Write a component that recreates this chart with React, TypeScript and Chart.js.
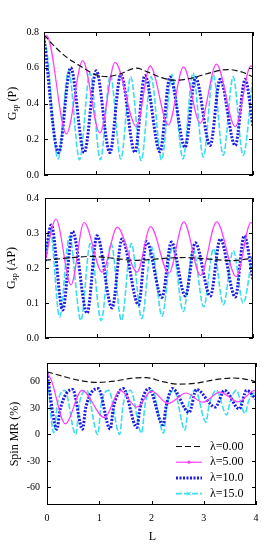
import React, { useEffect, useRef } from 'react';
import { Chart, registerables } from 'chart.js';
Chart.register(...registerables);

const FONT = '"Liberation Serif", "Times New Roman", serif';

// ---------- labels & ticks ----------
const legendLabels = ['λ=0.00', 'λ=5.00', 'λ=10.0', 'λ=15.0'];
const xTicks = [0, 1, 2, 3, 4];
const gpTicks = [0, 0.2, 0.4, 0.6, 0.8];
const gapTicks = [0, 0.1, 0.2, 0.3, 0.4];
const mrTicks = [-60, -30, 0, 30, 60];

type P = [number, number][];

// ---------- G_sp (P) ----------
const gpL0: P = [[0, 0.785], [0.2, 0.72], [0.45, 0.655], [0.75, 0.6], [0.95, 0.565], [1.2, 0.55], [1.45, 0.565], [1.77, 0.598], [2.0, 0.574], [2.25, 0.545], [2.51, 0.53], [2.8, 0.54], [3.1, 0.565], [3.52, 0.59], [3.8, 0.575], [4.0, 0.548]];
const gpL5: P = [[0, 0.75], [0.05, 0.78], [0.43, 0.23], [0.74, 0.64], [1.07, 0.235], [1.36, 0.63], [1.77, 0.27], [2.03, 0.61], [2.38, 0.28], [2.67, 0.605], [2.99, 0.29], [3.3, 0.62], [3.66, 0.27], [3.96, 0.61], [4.0, 0.6]];
const gpL10: P = [[0, 0.77], [0.28, 0.125], [0.51, 0.6], [0.77, 0.125], [1.0, 0.583], [1.26, 0.125], [1.47, 0.563], [1.74, 0.127], [1.93, 0.557], [2.22, 0.13], [2.41, 0.548], [2.7, 0.155], [2.9, 0.545], [3.18, 0.165], [3.37, 0.535], [3.66, 0.165], [3.85, 0.535], [4.0, 0.27]];
const gpL15: P = [[0, 0.76], [0.05, 0.7], [0.27, 0.09], [0.47, 0.58], [0.68, 0.085], [0.88, 0.57], [1.08, 0.085], [1.27, 0.56], [1.47, 0.09], [1.66, 0.55], [1.86, 0.08], [2.05, 0.55], [2.25, 0.085], [2.45, 0.56], [2.66, 0.09], [2.85, 0.57], [3.05, 0.1], [3.24, 0.56], [3.43, 0.11], [3.62, 0.55], [3.81, 0.11], [4.0, 0.55]];

// ---------- G_sp (AP) ----------
const gapL0: P = [[0, 0.222], [0.4, 0.228], [0.88, 0.233], [1.3, 0.228], [1.72, 0.222], [2.0, 0.224], [2.35, 0.228], [2.7, 0.23], [3.1, 0.226], [3.59, 0.221], [4.0, 0.228]];
const gapL5: P = [[0, 0.22], [0.21, 0.34], [0.5, 0.152], [0.75, 0.33], [1.1, 0.188], [1.39, 0.317], [1.77, 0.188], [2.03, 0.318], [2.38, 0.185], [2.67, 0.332], [2.99, 0.179], [3.3, 0.332], [3.68, 0.175], [3.96, 0.33], [4.0, 0.325]];
const gapL10: P = [[0, 0.22], [0.12, 0.323], [0.34, 0.08], [0.53, 0.305], [0.81, 0.071], [1.0, 0.292], [1.29, 0.086], [1.48, 0.283], [1.8, 0.095], [1.95, 0.276], [2.25, 0.116], [2.43, 0.274], [2.7, 0.12], [2.89, 0.272], [3.18, 0.12], [3.37, 0.283], [3.66, 0.117], [3.83, 0.292], [4.0, 0.166]];
const gapL15: P = [[0, 0.22], [0.1, 0.31], [0.28, 0.06], [0.47, 0.29], [0.69, 0.05], [0.87, 0.27], [1.08, 0.05], [1.27, 0.27], [1.47, 0.05], [1.66, 0.27], [1.86, 0.055], [2.05, 0.26], [2.25, 0.062], [2.45, 0.26], [2.66, 0.076], [2.85, 0.255], [3.05, 0.089], [3.24, 0.255], [3.43, 0.095], [3.62, 0.25], [3.81, 0.1], [4.0, 0.25]];

// ---------- Spin MR (%) ----------
const mrL0: P = [[0, 71], [0.3, 66], [0.6, 61.5], [0.95, 59], [1.3, 60.5], [1.6, 63.5], [1.9, 64.5], [2.2, 60], [2.52, 57], [2.9, 58.5], [3.2, 62], [3.57, 64], [3.85, 62], [4.0, 59.6]];
const mrL5: P = [[0, 70], [0.08, 62], [0.35, 12], [0.67, 50], [1.1, 19], [1.4, 50], [1.72, 31], [2.0, 49], [2.32, 35], [2.66, 47], [2.98, 36.5], [3.31, 48], [3.66, 37], [3.98, 50], [4.0, 50]];
const mrL10: P = [[0, 70], [0.19, 6], [0.25, 28], [0.49, 51], [0.68, 6], [0.74, 30], [0.98, 52], [1.21, 6], [1.27, 30], [1.46, 52], [1.72, 8], [1.78, 30], [1.95, 52], [2.22, 11], [2.28, 32], [2.4, 52], [2.72, 25], [2.86, 51], [3.22, 31], [3.4, 50], [3.68, 29], [3.82, 50], [4.0, 40]];
const mrL15: P = [[0, 70], [0.13, 2], [0.2, 35], [0.34, 50], [0.55, 0], [0.62, 35], [0.76, 50], [0.97, 0], [1.04, 35], [1.18, 50], [1.39, 0], [1.46, 35], [1.6, 50], [1.81, 1.5], [1.88, 35], [2.02, 50], [2.23, 1.5], [2.3, 35], [2.43, 50], [2.64, 5], [2.71, 35], [2.84, 50], [3.04, 14], [3.11, 35], [3.24, 50], [3.44, 22], [3.5, 36], [3.62, 50], [3.79, 24], [3.86, 38], [4.0, 50]];

const seriesStyles = [
  { color: '#111111', width: 1.2, dash: [6, 3] },
  { color: '#ff3cff', width: 1.2, dash: [] as number[] },
  { color: '#1c1ce6', width: 3, dash: [2, 1.5] },
  { color: '#3ddcee', width: 1.6, dash: [6, 2] },
];

const W = 273;

type Titles = { main: string; sub?: string; rest?: string };

const framePlugin = {
  id: 'frame',
  afterDraw(chart: any, _args: any, opts: any) {
    const { ctx, chartArea: a, scales } = chart;
    ctx.save();
    ctx.strokeStyle = '#000';
    ctx.lineWidth = 1;
    ctx.setLineDash([]);
    ctx.strokeRect(Math.round(a.left) + 0.5, Math.round(a.top) + 0.5, Math.round(a.width) - 1, Math.round(a.height) - 1);
    const tl = 4;
    ctx.beginPath();
    for (const v of opts.xt as number[]) {
      const px = Math.round(scales.x.getPixelForValue(v)) + 0.5;
      ctx.moveTo(px, a.bottom); ctx.lineTo(px, a.bottom - tl);
      ctx.moveTo(px, a.top); ctx.lineTo(px, a.top + tl);
    }
    for (const v of opts.yt as number[]) {
      const py = Math.round(scales.y.getPixelForValue(v)) + 0.5;
      ctx.moveTo(a.left, py); ctx.lineTo(a.left + tl, py);
      ctx.moveTo(a.right, py); ctx.lineTo(a.right - tl, py);
    }
    ctx.stroke();

    // y title
    const t: Titles = opts.title;
    ctx.fillStyle = '#000';
    ctx.textBaseline = 'middle';
    const big = `12px ${FONT}`;
    const small = `8px ${FONT}`;
    ctx.font = big;
    const w1 = ctx.measureText(t.main).width;
    const w3 = t.rest ? ctx.measureText(t.rest).width : 0;
    ctx.font = small;
    const w2 = t.sub ? ctx.measureText(t.sub).width : 0;
    const total = w1 + w2 + w3;
    const cy = (a.top + a.bottom) / 2;
    ctx.translate(opts.titleX, cy);
    ctx.rotate(-Math.PI / 2);
    let x = -total / 2;
    ctx.textAlign = 'left';
    ctx.font = big;
    ctx.fillText(t.main, x, 0);
    x += w1;
    if (t.sub) {
      ctx.font = small;
      ctx.fillText(t.sub, x, 3);
      x += w2;
    }
    if (t.rest) {
      ctx.font = big;
      ctx.fillText(t.rest, x, 0);
    }
    ctx.setTransform(1, 0, 0, 1, 0, 0);

    // x title
    if (opts.xTitle) {
      ctx.font = big;
      ctx.textAlign = 'center';
      ctx.fillText(opts.xTitle, (a.left + a.right) / 2 + 1, opts.xTitleY);
    }

    // legend
    if (opts.legend) {
      const lg = opts.legend;
      legendLabels.forEach((lab, i) => {
        const st = seriesStyles[i];
        const y = lg.y + i * lg.dy + 0.5;
        ctx.strokeStyle = st.color;
        ctx.lineWidth = st.width;
        ctx.setLineDash(st.dash);
        ctx.beginPath();
        ctx.moveTo(lg.x0, y);
        ctx.lineTo(lg.x1, y);
        ctx.stroke();
        ctx.setLineDash([]);
        const mx = (lg.x0 + lg.x1) / 2;
        if (i === 1) {
          ctx.fillStyle = st.color;
          ctx.beginPath();
          ctx.arc(mx, y, 1.6, 0, Math.PI * 2);
          ctx.fill();
        }
        if (i === 3) {
          ctx.lineWidth = 1;
          ctx.beginPath();
          ctx.moveTo(mx - 2, y - 2); ctx.lineTo(mx + 2, y + 2);
          ctx.moveTo(mx - 2, y + 2); ctx.lineTo(mx + 2, y - 2);
          ctx.stroke();
        }
        ctx.fillStyle = '#000';
        ctx.font = big;
        ctx.textAlign = 'left';
        ctx.fillText(lab, lg.tx, y);
      });
    }
    ctx.restore();
  },
};

type PanelProps = {
  top: number;
  height: number;
  plotLeft: number;
  plotRight: number;
  plotTop: number;
  plotBottom: number;
  series: P[];
  yMin: number;
  yMax: number;
  yt: number[];
  fmt: (v: number) => string;
  title: Titles;
  titleX: number;
  labelPad: number;
  showX?: boolean;
  legend?: any;
};

function Panel(p: PanelProps) {
  const ref = useRef<HTMLCanvasElement>(null);
  useEffect(() => {
    const canvas = ref.current!;
    const axisH = p.showX ? p.top + p.height - p.plotBottom : 0;
    const chart = new Chart(canvas, {
      type: 'line',
      data: {
        datasets: p.series.map((s, i) => ({
          label: legendLabels[i],
          data: s.map(([x, y]) => ({ x, y })),
          borderColor: seriesStyles[i].color,
          backgroundColor: seriesStyles[i].color,
          borderWidth: seriesStyles[i].width,
          borderDash: seriesStyles[i].dash,
          pointRadius: 0,
          fill: false,
          cubicInterpolationMode: 'monotone' as const,
        })),
      },
      options: {
        responsive: false,
        animation: false,
        events: [],
        layout: {
          padding: {
            left: 0,
            right: W - p.plotRight,
            top: p.plotTop - p.top,
            bottom: p.showX ? 0 : p.top + p.height - p.plotBottom,
          },
        },
        plugins: {
          legend: { display: false },
          tooltip: { enabled: false },
          frame: {
            xt: xTicks,
            yt: p.yt,
            title: p.title,
            titleX: p.titleX,
            xTitle: p.showX ? 'L' : undefined,
            xTitleY: 537 - p.top,
            legend: p.legend,
          },
        } as any,
        scales: {
          x: {
            type: 'linear',
            min: 0,
            max: 4,
            display: !!p.showX,
            grid: { display: false, drawTicks: false },
            border: { display: false },
            ticks: { font: { family: FONT, size: 10 }, color: '#000', padding: 7, maxRotation: 0 },
            afterBuildTicks: (s: any) => { s.ticks = xTicks.map((v) => ({ value: v })); },
            afterFit: (s: any) => { if (p.showX) s.height = axisH; },
          },
          y: {
            type: 'linear',
            min: p.yMin,
            max: p.yMax,
            grid: { display: false, drawTicks: false },
            border: { display: false },
            ticks: {
              font: { family: FONT, size: 10 },
              color: '#000',
              padding: p.labelPad,
              callback: (v: any) => p.fmt(Number(v)),
            },
            afterBuildTicks: (s: any) => { s.ticks = p.yt.map((v) => ({ value: v })); },
            afterFit: (s: any) => { s.width = p.plotLeft; },
          },
        },
      },
      plugins: [framePlugin],
    });
    return () => chart.destroy();
  }, []);
  return (
    <canvas
      ref={ref}
      width={W}
      height={p.height}
      style={{ position: 'absolute', left: 0, top: p.top, width: W, height: p.height }}
    />
  );
}

export default function App() {
  return (
    <div style={{ position: 'fixed', left: 0, top: 0, width: W, height: 545, background: '#fff', overflow: 'hidden' }}>
      <Panel
        top={0} height={186} plotLeft={44} plotRight={253} plotTop={32} plotBottom={177}
        series={[gpL0, gpL5, gpL10, gpL15]} yMin={0} yMax={0.8} yt={gpTicks}
        fmt={(v) => v.toFixed(1)} title={{ main: 'G', sub: 'sp', rest: ' (P)' }} titleX={13} labelPad={5}
      />
      <Panel
        top={186} height={164} plotLeft={45} plotRight={253} plotTop={196} plotBottom={343}
        series={[gapL0, gapL5, gapL10, gapL15]} yMin={0} yMax={0.4} yt={gapTicks}
        fmt={(v) => v.toFixed(1)} title={{ main: 'G', sub: 'sp', rest: ' (AP)' }} titleX={12} labelPad={6}
      />
      <Panel
        top={350} height={195} plotLeft={47} plotRight={256} plotTop={360} plotBottom={505}
        series={[mrL0, mrL5, mrL10, mrL15]} yMin={-80} yMax={81} yt={mrTicks}
        fmt={(v) => String(v)} title={{ main: 'Spin MR (%)' }} titleX={15} labelPad={7} showX
        legend={{ x0: 176, x1: 202, tx: 210, y: 446 - 350, dy: 15.7 }}
      />
    </div>
  );
}
